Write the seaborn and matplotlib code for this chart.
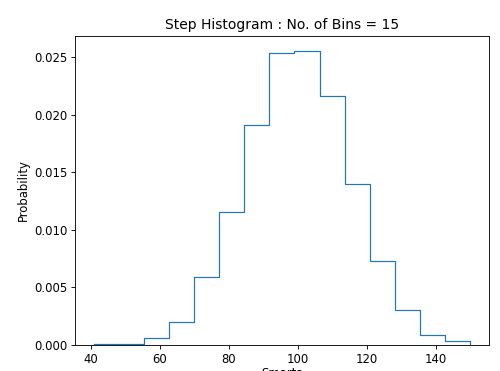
import numpy as np
import pandas as pd
import matplotlib
matplotlib.use("Agg")
import matplotlib.pyplot as plt
import seaborn as sns

# Bin edges (Smarts) and probability density per bin
bin_edges = [40.75, 48.03, 55.31, 62.60, 69.88, 77.16, 84.45, 91.73,
             99.01, 106.29, 113.58, 120.86, 128.14, 135.43, 142.71, 150.0]
densities = [0.00005, 0.00012, 0.00062, 0.00200, 0.00595, 0.01152, 0.01910,
             0.02535, 0.02557, 0.02165, 0.01400, 0.00726, 0.00307, 0.00090, 0.00031]

title = "Step Histogram : No. of Bins = 15"
xlabel = "Smarts"
ylabel = "Probability"

centers = [(a + b) / 2 for a, b in zip(bin_edges[:-1], bin_edges[1:])]
df = pd.DataFrame({"Smarts": centers, "density": densities})

plt.rcParams.update({"font.size": 10.7, "axes.titlesize": 12.8,
                     "axes.labelsize": 10.7, "xtick.labelsize": 10.7,
                     "ytick.labelsize": 10.7})

fig = plt.figure(figsize=(6.4, 4.7488), dpi=78.125)
ax = fig.add_axes([0.15, 0.070, 0.978 - 0.15, 0.903 - 0.070])

color = "#1f77b4"
sns.histplot(data=df, x="Smarts", weights="density", bins=bin_edges,
             stat="count", element="step", fill=False, color=color,
             linewidth=1.1, ax=ax)
# close the outline down to zero at both ends, like a step histogram
ax.vlines([bin_edges[0], bin_edges[-1]], 0, [densities[0], densities[-1]],
          color=color, linewidth=1.1)

ax.set_title(title)
ax.set_xlabel(xlabel, labelpad=1.5)
ax.set_ylabel(ylabel)
ax.set_ylim(0, max(densities) * 1.05)
ax.set_xlim(35.3, 155.5)
ax.set_xticks([40, 60, 80, 100, 120, 140])

fig.savefig("out.png", dpi=78.125)
